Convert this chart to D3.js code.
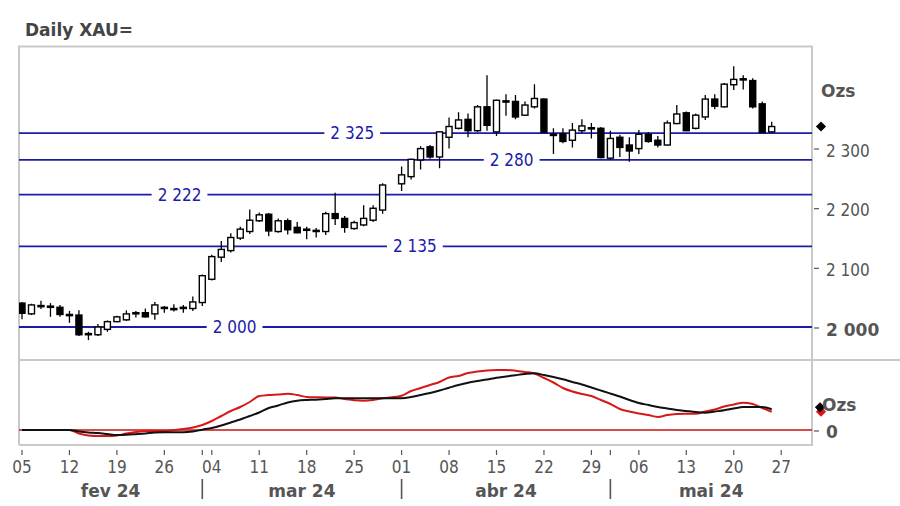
<!DOCTYPE html>
<html><head><meta charset="utf-8">
<script src="https://cdn.jsdelivr.net/npm/d3@7"></script>
<style>
html,body{margin:0;padding:0;background:#fff;}
svg{display:block;font-family:"DejaVu Sans Condensed","DejaVu Sans",sans-serif;font-stretch:condensed;}
svg text.b{font-family:"DejaVu Sans",sans-serif;font-stretch:normal;font-weight:bold;}
</style></head>
<body><svg id="c" width="900" height="506"></svg>
<script>
// ---------- data ----------
const title = "Daily XAU=";
const startDate = "2024-02-05", endDate = "2024-05-31";
const open  = [2040,2022,2036,2035,2033,2021,2020,1988,1987,1996,2009,2012,2024,2024,2022,2033,2031,2033,2031,2041,
               2080,2117,2128,2149,2160,2178,2189,2160,2178,2167,2164,2162,2160,2190,2182,2165,2171,2179,2196,null,
               2240,2252,2280,2302,2285,2318,2333,2348,2329,2369,2327,2379,2378,2355,2369,2382,2323,2324,2313,2329,
               2334,2333,2283,2318,2305,2299,2323,2313,2305,2341,2359,2333,2352,2382,2369,2406,2416,2413,2374,2327];
const high  = [2042,2039,2044,2040,2037,2027,2028,1992,2005,2011,2019,2028,2027,2031,2042,2035,2038,2037,2051,2088,
               2121,2144,2157,2168,2197,2192,2191,2182,2182,2176,2168,2166,2193,2225,2186,2178,2204,2204,2241,null,
               2269,2282,2303,2305,2328,2351,2360,2358,2372,2422,2381,2390,2389,2378,2407,2383,2333,2333,2342,2348,
               2342,2335,2329,2322,2318,2330,2327,2320,2346,2372,2361,2358,2389,2390,2409,2437,2422,2417,2378,2344];
const low   = [2013,2020,2030,2017,2017,2007,1985,1978,1985,1992,2008,2010,2016,2016,2012,2024,2026,2024,2027,2035,
               2078,2109,2125,2146,2156,2176,2152,2158,2155,2157,2147,2150,2154,2171,2158,2163,2169,2176,2190,null,
               2228,2247,2264,2282,2266,2299,2331,2318,2327,2329,2320,2354,2348,2354,2366,2325,2290,2308,2301,2325,
               2316,2283,2280,2285,2277,2290,2309,2301,2304,2340,2328,2331,2347,2365,2368,2397,2398,2366,2325,2325];
const close = [2023,2037,2034,2033,2021,2019,1987,1989,2000,2009,2017,2022,2023,2017,2037,2032,2030,2032,2042,2086,
               2118,2130,2150,2164,2179,2188,2161,2178,2163,2158,2162,2160,2190,2182,2167,2175,2182,2199,2238,null,
               2255,2281,2299,2285,2327,2336,2347,2329,2369,2338,2380,2378,2352,2372,2383,2326,2322,2311,2330,2337,
               2333,2284,2316,2301,2295,2323,2311,2305,2342,2357,2329,2355,2382,2370,2407,2415,2414,2369,2326,2336];
const fastLine = [0,0,0,0,0,0,-3.5,-5.5,-6,-6,-5.5,-3.5,-2,-1,-1,-1,0,1,2.5,5,
                  9,14,19,23,28,34,35,35.5,36.3,35,33,32.7,32.5,32.5,31,29.7,29.3,30,31.7,null,
                  34.3,39,42,45,48,52.5,54,57,58.5,59.5,60,60,59.3,58,56.5,52,47.5,42,38.5,36,
                  34,30,26,21,18.5,16.5,15,13,15,16,16.3,16.3,18.5,20.5,23.5,25.5,27.3,26,22,18.3];
const slowLine = [0,0,0,0,0,0,-1.5,-2.5,-3,-4,-5,-4.8,-4.2,-3.5,-2.5,-2.3,-2.3,-2.3,-1.5,0.3,
                  2,4.5,7.5,10.5,14,17.5,22,24.5,27.5,29.3,30,30.3,31,31.7,31.7,31.7,31.7,31.7,31.7,null,
                  31.8,33,35,37,39.5,42.3,45,47.3,49,50.5,52.3,53.5,54.8,56,56.7,55,53,50.7,48,45.5,
                  42.5,39.5,36.5,33.5,30,27,25,23,21.5,20,19,18,17.3,18.5,19.7,21.5,23,23,23,20.7];
const levels = [2325, 2280, 2222, 2135, 2000];
const priceTicks = [2000, 2100, 2200, 2300];
const monthNames = ["fev 24", "mar 24", "abr 24", "mai 24"];
const unitLabel = "Ozs";

// ---------- layout ----------
const L = 19, R = 812, TOP = 46.5, SEP = 360, BOT = 445;
const svg = d3.select("#c");
const fmt = d3.formatLocale({decimal: ",", thousands: "\u00a0", grouping: [3], currency: ["", ""]}).format(",d");

const days = d3.timeDay.range(new Date(startDate + "T00:00"), new Date(endDate + "T23:00"))
  .filter(d => d.getDay() !== 0 && d.getDay() !== 6);
const x = d3.scaleLinear().domain([0, 79]).range([22, 771.7]);
const yU = d3.scaleLinear().domain([2000, 2300]).range([327, 148]);
const yL = d3.scaleLinear().domain([0, 60]).range([430, 370]);

const defs = svg.append("defs");
defs.append("clipPath").attr("id", "cu").append("rect").attr("x", L).attr("y", TOP).attr("width", R - L).attr("height", SEP - TOP);
defs.append("clipPath").attr("id", "cl").append("rect").attr("x", L).attr("y", SEP).attr("width", R - L).attr("height", BOT - SEP);

svg.append("text").attr("class", "b").attr("x", 25).attr("y", 36).attr("font-size", 17)
  .attr("fill", "#444").text(title);

const gray = "#c9c9c9";
const fr = svg.append("g").attr("stroke", gray).attr("stroke-width", 2).attr("fill", "none");
fr.append("path").attr("d", `M${L},${BOT}V${TOP}H${R}V${BOT}H${L}`);
fr.append("line").attr("x1", L).attr("x2", 900).attr("y1", SEP).attr("y2", SEP);

// ---------- upper panel ----------
const up = svg.append("g").attr("clip-path", "url(#cu)");
const blue = "#1c1caa";
const labelAt = {2325: 34.8, 2280: 51.6, 2222: 16.6, 2135: 41.4, 2000: 22.4};
levels.forEach(v => {
  up.append("line").attr("x1", L).attr("x2", R).attr("y1", yU(v)).attr("y2", yU(v))
    .attr("stroke", blue).attr("stroke-width", 1.8);
});
const candles = d3.range(open.length).filter(i => open[i] != null);
const cg = up.append("g");
cg.selectAll("line.w").data(candles).join("line").attr("class", "w")
  .attr("x1", i => x(i)).attr("x2", i => x(i))
  .attr("y1", i => yU(high[i])).attr("y2", i => yU(low[i]))
  .attr("stroke", "#000").attr("stroke-width", 1.3);
cg.selectAll("rect").data(candles).join("rect")
  .attr("x", i => x(i) - 3).attr("width", 6)
  .attr("y", i => yU(Math.max(open[i], close[i])))
  .attr("height", i => Math.max(1.2, Math.abs(yU(open[i]) - yU(close[i]))))
  .attr("fill", i => close[i] >= open[i] ? "#fff" : "#000")
  .attr("stroke", "#000").attr("stroke-width", 1.4);

levels.forEach(v => {
  const t = up.append("text").attr("x", x(labelAt[v])).attr("y", yU(v) + 6)
    .attr("text-anchor", "middle").attr("font-size", 17).attr("fill", blue).text(fmt(v));
  const bb = t.node().getBBox();
  up.insert("rect", "text").attr("x", bb.x - 6).attr("y", yU(v) - 3).attr("width", bb.width + 12).attr("height", 6).attr("fill", "#fff");
});

const diamond = d3.symbol(d3.symbolSquare, 52)();
const ra = svg.append("g");
priceTicks.forEach(v => {
  ra.append("line").attr("x1", 814).attr("x2", 819).attr("y1", yU(v) + 1).attr("y2", yU(v) + 1).attr("stroke", "#555").attr("stroke-width", 1.2);
  ra.append("text").attr("class", v % 1000 === 0 ? "b" : null).attr("x", 826).attr("y", yU(v) + 8.5)
    .attr("font-size", 17).attr("fill", "#555").text(fmt(v));
});
ra.append("text").attr("class", "b").attr("x", 821).attr("y", 97).attr("font-size", 17).attr("fill", "#555").text(unitLabel);
const lastClose = close[close.length - 1];
ra.append("path").attr("d", diamond).attr("transform", `translate(821,${yU(lastClose)}) rotate(45)`).attr("fill", "#000");

// ---------- lower panel ----------
const lo = svg.append("g").attr("clip-path", "url(#cl)");
lo.append("line").attr("x1", L).attr("x2", R).attr("y1", yL(0)).attr("y2", yL(0)).attr("stroke", "#cc1111").attr("stroke-width", 1.6);
const idx = d3.range(fastLine.length).filter(i => fastLine[i] != null);
const lineS = d3.line().x(i => x(i)).y(i => yL(slowLine[i])).curve(d3.curveMonotoneX);
const lineF = d3.line().x(i => x(i)).y(i => yL(fastLine[i])).curve(d3.curveMonotoneX);
lo.append("path").attr("d", lineF(idx)).attr("fill", "none").attr("stroke", "#d81818").attr("stroke-width", 2);
lo.append("path").attr("d", lineS(idx)).attr("fill", "none").attr("stroke", "#111").attr("stroke-width", 2);

const la = svg.append("g");
la.append("line").attr("x1", 814).attr("x2", 819).attr("y1", yL(0) + 1).attr("y2", yL(0) + 1).attr("stroke", "#555").attr("stroke-width", 1.2);
la.append("text").attr("class", "b").attr("x", 826).attr("y", yL(0) + 8).attr("font-size", 17).attr("fill", "#555").text("0");
const lastI = idx[idx.length - 1];
la.append("path").attr("d", diamond).attr("transform", `translate(821,${yL(fastLine[lastI])}) rotate(45)`).attr("fill", "#d81818");
la.append("path").attr("d", diamond).attr("transform", `translate(820,${yL(slowLine[lastI]) - 2}) rotate(45)`).attr("fill", "#000");
la.append("text").attr("class", "b").attr("x", 822).attr("y", 411).attr("font-size", 17).attr("fill", "#555").text(unitLabel);

// ---------- bottom axis ----------
const ax = svg.append("g");
const tickIdx = d3.range(days.length).filter(i => x(i) <= R &&
  (days[i].getDay() === 1 || (i > 0 && days[i].getMonth() !== days[i - 1].getMonth())));
ax.selectAll("line.t").data(tickIdx).join("line").attr("class", "t")
  .attr("x1", i => x(i)).attr("x2", i => x(i)).attr("y1", 450).attr("y2", 455)
  .attr("stroke", "#555").attr("stroke-width", 1.2);
ax.selectAll("text.d").data(tickIdx.filter(i => days[i].getDay() === 1)).join("text").attr("class", "d")
  .attr("x", i => x(i)).attr("y", 473).attr("text-anchor", "middle").attr("font-size", 17).attr("fill", "#555")
  .text(i => d3.timeFormat("%d")(days[i]));
const monthStarts = d3.range(1, days.length).filter(i => days[i].getMonth() !== days[i - 1].getMonth() && x(i) <= R);
const bounds = [L, ...monthStarts.map(i => x(i)), R];
monthNames.forEach((m, k) => {
  ax.append("text").attr("class", "b").attr("x", (bounds[k] + bounds[k + 1]) / 2).attr("y", 497).attr("text-anchor", "middle")
    .attr("font-size", 17).attr("fill", "#555").text(m);
});
monthStarts.forEach(i => {
  ax.append("line").attr("x1", x(i)).attr("x2", x(i)).attr("y1", 479).attr("y2", 499).attr("stroke", "#555").attr("stroke-width", 1.6);
});
</script></body></html>
